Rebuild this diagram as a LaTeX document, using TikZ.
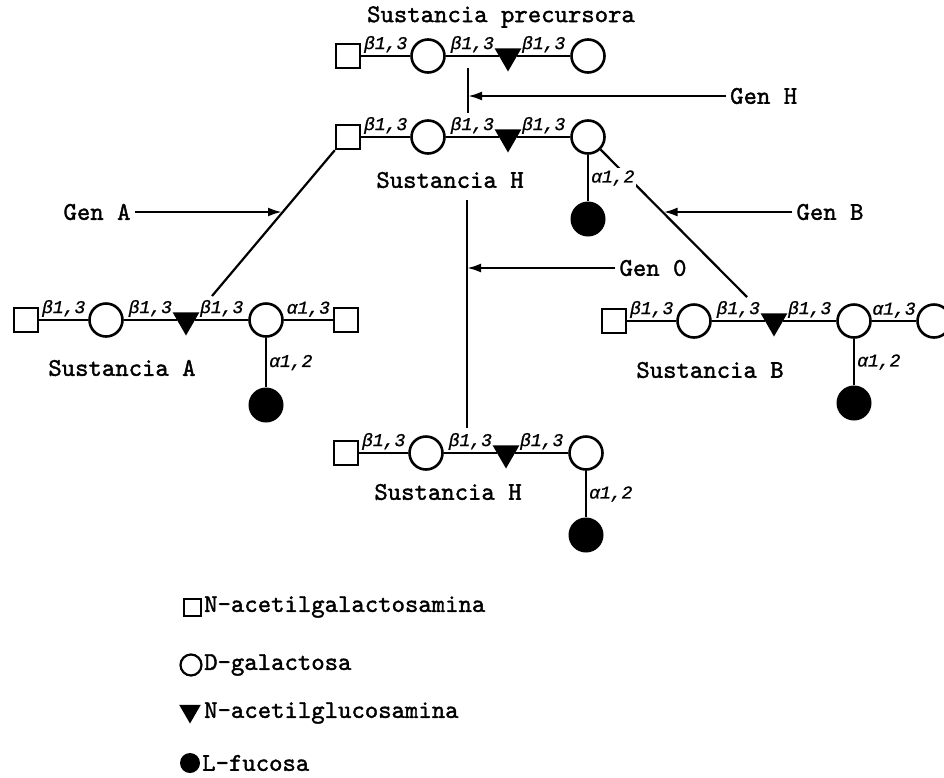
\documentclass[tikz,border=0pt]{standalone}
\usepackage{fontspec}
\newfontfamily\cour{Liberation Mono}
\newfontfamily\lmtt{lmmono10-regular.otf}[FakeBold=1.5]
\usetikzlibrary{positioning, arrows.meta, shapes.geometric}
\tikzset{
  gnac/.style = {draw, fill=white, line width=2.4pt, minimum size=24pt, inner sep=0pt},
  gal/.style  = {circle, draw, fill=white, line width=2.6pt, minimum size=33pt, inner sep=0pt},
  glc/.style  = {regular polygon, regular polygon sides=3, shape border rotate=180,
                 fill=black, minimum size=31pt, inner sep=0pt},
  fuc/.style  = {circle, fill=black, minimum size=35pt, inner sep=0pt},
  bond/.style = {line width=2.4pt},
  lnk/.style  = {font=\cour\itshape\addfontfeatures{FakeBold=1}\fontsize{18}{20}\selectfont, inner sep=2pt},
  ttl/.style  = {font=\lmtt\fontsize{25.5}{28}\selectfont, inner sep=0pt},
  gen/.style  = {ttl, inner sep=4pt},
  cn/.style   = {line width=2.2pt},
  fl/.style   = {-{Latex[length=14pt, width=9pt]}, line width=2.4pt}
}

\begin{document}
\begin{tikzpicture}[x=1pt, y=-1pt, node distance=80pt, on grid]
  \clip (0,0) rectangle (944,777);
  % sustancia precursora
  \node[ttl] (tP) at (501,17) {Sustancia precursora};
  \node[gnac] (p1) at (348,56) {};
  \node[gal, right=of p1] (p2) {};
  \node[glc, right=of p2] (p3) {};
  \node[gal, right=of p3] (p4) {};
  \foreach \x/\y in {p1/p2,p2/p3,p3/p4} \draw[bond] (\x) -- node[lnk, above] {β1,3} (\y);

  % sustancia H
  \node[gnac] (h1) at (348,137) {};
  \node[gal, right=of h1] (h2) {};
  \node[glc, right=of h2] (h3) {};
  \node[gal, right=of h3] (h4) {};
  \node[fuc, below=82pt of h4] (h5) {};
  \node[ttl] (tH) at (450,180) {Sustancia H};
  \foreach \x/\y in {h1/h2,h2/h3,h3/h4} \draw[bond] (\x) -- node[lnk, above] {β1,3} (\y);

  % sustancia A
  \node[gnac] (a1) at (26,320) {};
  \node[gal, right=of a1] (a2) {};
  \node[glc, right=of a2] (a3) {};
  \node[gal, right=of a3] (a4) {};
  \node[gnac, right=of a4] (a5) {};
  \node[fuc, below=85pt of a4] (a6) {};
  \node[ttl] (tA) at (122,368) {Sustancia A};
  \foreach \x/\y/\l in {a1/a2/β,a2/a3/β,a3/a4/β,a4/a5/α}
    \draw[bond] (\x) -- node[lnk, above] {\l1,3} (\y);
  \draw[bond] (a4) -- node[lnk, right] {α1,2} (a6);

  % sustancia B
  \node[gnac] (b1) at (614,321) {};
  \node[gal, right=of b1] (b2) {};
  \node[glc, right=of b2] (b3) {};
  \node[gal, right=of b3] (b4) {};
  \node[gal, right=of b4] (b5) {};
  \node[fuc, below=82pt of b4] (b6) {};
  \node[ttl] (tB) at (710,370) {Sustancia B};
  \foreach \x/\y/\l in {b1/b2/β,b2/b3/β,b3/b4/β,b4/b5/α}
    \draw[bond] (\x) -- node[lnk, above] {\l1,3} (\y);
  \draw[bond] (b4) -- node[lnk, right] {α1,2} (b6);

  % sustancia H (0)
  \node[gnac] (k1) at (346,453) {};
  \node[gal, right=of k1] (k2) {};
  \node[glc, right=of k2] (k3) {};
  \node[gal, right=of k3] (k4) {};
  \node[fuc, below=82pt of k4] (k5) {};
  \node[ttl] (tK) at (448,492) {Sustancia H};
  \foreach \x/\y in {k1/k2,k2/k3,k3/k4} \draw[bond] (\x) -- node[lnk, above] {β1,3} (\y);
  \draw[bond] (k4) -- node[lnk, right] {α1,2} (k5);

  % genes
  \coordinate (pv1) at (468,68);
  \coordinate (pv2) at (468,113);
  \draw[cn] (pv1) -- (pv2);
  \node[gen, anchor=west] (gH) at (726,96) {Gen H};
  \draw[fl] (gH.west) -- (gH.west -| pv1);

  \coordinate (aTip) at (212,296);
  \draw[cn] (h1.south west) -- coordinate[pos=0.43] (aHit) (aTip);
  \node[gen] (gA) at (97,212) {Gen A};
  \draw[fl] (gA.east) -- (gA.east -| aHit);

  \coordinate (bTip) at (747,297);
  \draw[cn] (h4.south east) -- coordinate[pos=0.43] (bHit) (bTip);
  \node[gen] (gB) at (830,212) {Gen B};
  \draw[fl] (gB.west) -- (gB.west -| bHit);

  \coordinate (cv1) at (467,200);
  \coordinate (cv2) at (467,428);
  \draw[cn] (cv1) -- (cv2);
  \node[gen] (gO) at (653,268) {Gen 0};
  \draw[fl] (gO.west) -- (gO.west -| cv1);

  % alpha 1,2 of H over the B line
  \draw[bond] (h4) -- node[lnk, right, fill=white] {α1,2} (h5);

  % legend
  \node[gnac, minimum size=17pt, line width=2pt] (l1) at (192,607) {};
  \node[circle, draw, line width=2.2pt, minimum size=21pt, inner sep=0pt] (l2) at (191,665) {};
  \node[glc, minimum size=25pt] (l3) at (190,711) {};
  \node[fuc, minimum size=20pt] (l4) at (190,763) {};
  \node[ttl, anchor=west] (t1) at (204,607) {N-acetilgalactosamina};
  \node[ttl, anchor=west] (t2) at (204,665) {D-galactosa};
  \node[ttl, anchor=west] (t3) at (204,713) {N-acetilglucosamina};
  \node[ttl, anchor=west] (t4) at (202,763) {L-fucosa};
\end{tikzpicture}
\end{document}
